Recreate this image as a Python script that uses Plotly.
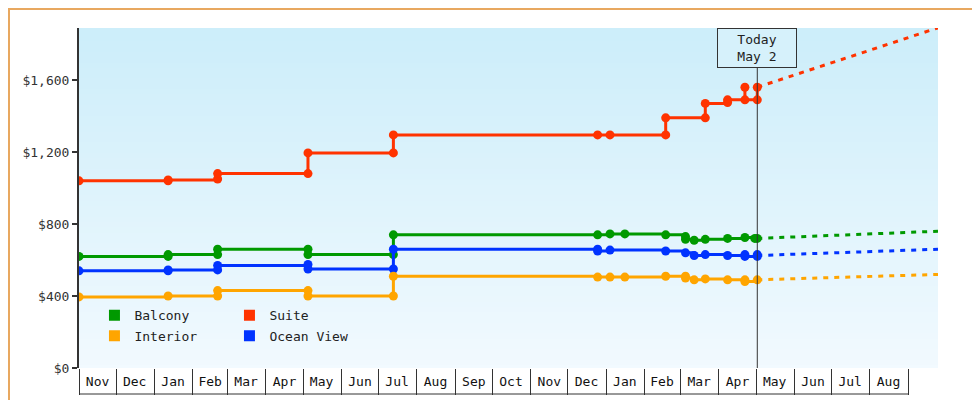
import plotly.graph_objects as go
import zlib, struct, base64

# ---- data ----
series_names = ["Balcony", "Suite", "Interior", "Ocean View"]
colors = {"Balcony": "#009900", "Suite": "#ff3300", "Interior": "#ffa500", "Ocean View": "#0033ff"}

suite_dates = ["2022-11-01","2023-01-12","2023-01-12","2023-02-21","2023-02-21","2023-05-05","2023-05-05","2023-07-13","2023-07-13",
               "2023-12-25","2024-01-04","2024-02-18","2024-02-18","2024-03-21","2024-03-21","2024-04-08","2024-04-08","2024-04-22","2024-04-22","2024-05-02","2024-05-02"]
suite_vals  = [1040,1040,1045,1050,1080,1080,1195,1195,1295,
               1295,1295,1295,1390,1390,1470,1475,1490,1560,1490,1490,1560]

balcony_dates = ["2022-11-01","2023-01-12","2023-01-12","2023-02-21","2023-02-21","2023-05-05","2023-05-05","2023-07-13","2023-07-13",
                 "2023-12-25","2024-01-04","2024-01-16","2024-02-18","2024-03-05","2024-03-05","2024-03-12","2024-03-21","2024-04-08","2024-04-22","2024-04-30","2024-05-02"]
balcony_vals  = [620,620,630,630,660,660,630,630,740,
                 740,745,745,740,730,715,710,715,720,725,720,720]

interior_dates = ["2022-11-01","2023-01-12","2023-02-21","2023-02-21","2023-05-05","2023-05-05","2023-07-13","2023-07-13",
                  "2023-12-25","2024-01-04","2024-01-16","2024-02-18","2024-03-05","2024-03-05","2024-03-12","2024-03-21","2024-04-08","2024-04-22","2024-04-22","2024-05-02"]
interior_vals  = [395,400,400,430,430,400,400,510,
                  505,505,505,510,510,500,490,495,490,490,480,490]

ocean_dates = ["2022-11-01","2023-01-12","2023-01-12","2023-02-21","2023-02-21","2023-05-05","2023-05-05","2023-07-13","2023-07-13",
               "2023-12-25","2023-12-25","2024-01-04","2024-02-18","2024-03-05","2024-03-12","2024-03-21","2024-04-08","2024-04-22","2024-04-22","2024-05-02","2024-05-02"]
ocean_vals  = [540,540,545,545,570,575,550,550,660,
               660,650,655,650,640,625,630,625,630,620,630,620]

forecast_dates = ["2024-05-02", "2024-09-25"]
forecast_vals = {"Suite": [1560, 1890], "Balcony": [720, 760], "Interior": [490, 520], "Ocean View": [625, 660]}

month_starts = ["2022-11-01","2022-12-01","2023-01-01","2023-02-01","2023-03-01","2023-04-01","2023-05-01","2023-06-01",
                "2023-07-01","2023-08-01","2023-09-01","2023-10-01","2023-11-01","2023-12-01","2024-01-01","2024-02-01",
                "2024-03-01","2024-04-01","2024-05-01","2024-06-01","2024-07-01","2024-08-01","2024-09-01"]
month_mids = ["2022-11-16","2022-12-16","2023-01-16","2023-02-15","2023-03-16","2023-04-16","2023-05-16","2023-06-16",
              "2023-07-16","2023-08-16","2023-09-16","2023-10-16","2023-11-16","2023-12-16","2024-01-16","2024-02-15",
              "2024-03-16","2024-04-16","2024-05-16","2024-06-16","2024-07-16","2024-08-16"]
month_labels = ["Nov","Dec","Jan","Feb","Mar","Apr","May","Jun","Jul","Aug","Sep","Oct",
                "Nov","Dec","Jan","Feb","Mar","Apr","May","Jun","Jul","Aug"]
y_ticks = [0, 400, 800, 1200, 1600]
y_labels = ["$0", "$400", "$800", "$1,200", "$1,600"]
today = "2024-05-02"

data = {"Suite": (suite_dates, suite_vals), "Balcony": (balcony_dates, balcony_vals),
        "Interior": (interior_dates, interior_vals), "Ocean View": (ocean_dates, ocean_vals)}

# ---- gradient background image ----
def png_gradient(h=64):
    top = (205, 238, 250); bot = (242, 250, 255)
    raw = b""
    for i in range(h):
        t = i / (h - 1)
        c = bytes(int(top[k] + (bot[k] - top[k]) * t) for k in range(3))
        raw += b"\x00" + c
    def chunk(tag, d):
        return struct.pack(">I", len(d)) + tag + d + struct.pack(">I", zlib.crc32(tag + d) & 0xffffffff)
    png = b"\x89PNG\r\n\x1a\n" + chunk(b"IHDR", struct.pack(">IIBBBBB", 1, h, 8, 2, 0, 0, 0)) + chunk(b"IDAT", zlib.compress(raw)) + chunk(b"IEND", b"")
    return "data:image/png;base64," + base64.b64encode(png).decode()

FONT = "DejaVu Sans Mono"
fig = go.Figure()
for name in ["Suite", "Balcony", "Ocean View", "Interior"]:
    d, v = data[name]
    fig.add_trace(go.Scatter(x=d, y=v, mode="lines+markers", line=dict(color=colors[name], width=3, shape="hv"),
                             marker=dict(color=colors[name], size=9), showlegend=False, hoverinfo="skip"))
    fig.add_trace(go.Scatter(x=forecast_dates, y=forecast_vals[name], mode="lines",
                             line=dict(color=colors[name], width=3, dash="5px,6px"), showlegend=False))
for name, lg in [("Balcony", "legend"), ("Suite", "legend"), ("Interior", "legend2"), ("Ocean View", "legend2")]:
    fig.add_trace(go.Scatter(x=[None], y=[None], mode="markers", name=name, legend=lg,
                             marker=dict(symbol="square", size=11, color=colors[name])))

fig.add_shape(type="line", xref="x", yref="paper", x0=today, x1=today, y0=0, y1=0.9, line=dict(color="#333", width=1))
fig.add_shape(type="line", xref="x", yref="paper", x0=month_starts[0], x1=month_starts[-1], y0=-26/340, y1=-26/340,
              line=dict(color="#333", width=1))
fig.add_shape(type="rect", xref="paper", yref="paper", x0=-70/859, x1=1+49/859, y0=-39/340, y1=1+19/340,
              line=dict(color="#e8a860", width=2))
fig.add_annotation(x=today, xref="x", y=1.0, yref="paper", yanchor="top", text="Today<br>May 2", showarrow=False,
                   width=72, height=32,
                   bgcolor="#d6f1fb", bordercolor="#333", borderwidth=1, borderpad=3, font=dict(family=FONT, size=13, color="#222"))

fig.update_layout(
    width=980, height=400, margin=dict(l=71, r=50, t=20, b=40, autoexpand=False),
    paper_bgcolor="white", plot_bgcolor="#e0f4fc",
    font=dict(family=FONT, size=13, color="#222"),
    images=[dict(source=png_gradient(), xref="paper", yref="paper", x=0, y=1, sizex=1, sizey=1,
                 sizing="stretch", layer="below", xanchor="left", yanchor="top")],
    legend=dict(orientation="h", x=0.018, y=0.155, xanchor="left", yanchor="middle", bgcolor="rgba(0,0,0,0)",
                entrywidth=90, itemwidth=30, font=dict(family=FONT, size=13), tracegroupgap=0),
    legend2=dict(orientation="h", x=0.018, y=0.095, xanchor="left", yanchor="middle", bgcolor="rgba(0,0,0,0)",
                 entrywidth=90, itemwidth=30, font=dict(family=FONT, size=13)),
    xaxis=dict(type="date", range=["2022-11-01", "2024-09-25"], tickmode="array", tickvals=month_mids, ticktext=month_labels,
               ticks="", showgrid=False, zeroline=False, showline=False, ticklabelstandoff=4, automargin=False,
               minor=dict(tickmode="array", tickvals=month_starts, ticks="outside", ticklen=26, tickcolor="#333", tickwidth=1, showgrid=False),
               tickfont=dict(family=FONT, size=13, color="#111")),
    yaxis=dict(range=[0, 1889], tickmode="array", tickvals=y_ticks, ticktext=y_labels, automargin=False,
               showgrid=False, zeroline=False, showline=True, linecolor="#333", linewidth=2,
               ticks="outside", ticklen=5, tickcolor="#333", tickwidth=2, tickfont=dict(family=FONT, size=13, color="#333")),
)
fig.write_html("out.html")
